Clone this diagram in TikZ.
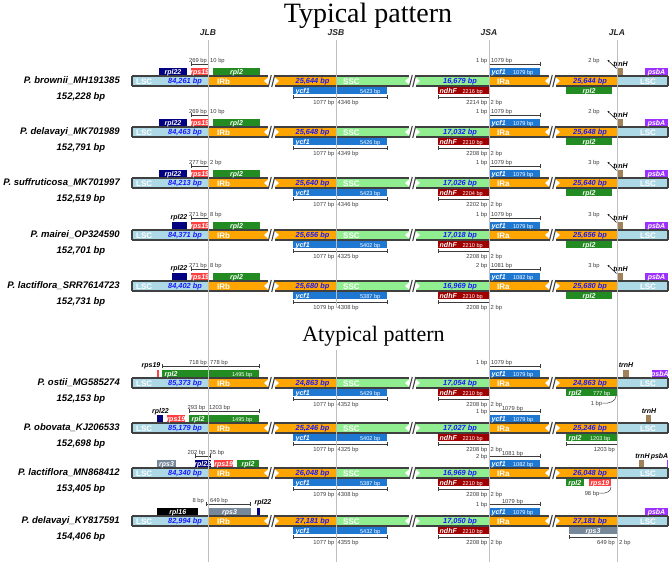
\documentclass[tikz,border=0pt]{standalone}
\usepackage{fontspec}
\setmainfont{Liberation Sans}
\newfontfamily\titlefont{Liberation Serif}
\usetikzlibrary{arrows.meta}
\definecolor{lscblue}{RGB}{173,216,230}
\definecolor{irorange}{RGB}{255,165,0}
\definecolor{sscgreen}{RGB}{144,238,144}
\definecolor{bpblue}{RGB}{25,25,255}
\definecolor{rplnavy}{RGB}{0,0,128}
\definecolor{rpsred}{RGB}{255,64,64}
\definecolor{rplgreen}{RGB}{34,139,34}
\definecolor{ycfblue}{RGB}{30,120,210}
\definecolor{ndhred}{RGB}{160,0,0}
\definecolor{trnbrown}{RGB}{160,130,90}
\definecolor{psbpurple}{RGB}{155,48,255}
\definecolor{rpsgray}{RGB}{119,136,153}
\definecolor{bardark}{RGB}{64,64,64}
\definecolor{juncgray}{RGB}{190,190,190}
\definecolor{dimgray}{RGB}{60,60,60}

\tikzset{
  titlelab/.style={font=\titlefont\fontsize{22}{22}\selectfont, inner sep=0pt},
  collab/.style={font=\bfseries\itshape\fontsize{8.5}{8.5}\selectfont, text=black!85, inner sep=0pt},
  splab/.style={font=\bfseries\itshape\fontsize{9.5}{9.5}\selectfont, inner sep=0pt, text height=0.72em, text depth=0.2em},
  seglab/.style={font=\bfseries\fontsize{8}{8}\selectfont, text=white, inner sep=0pt, text height=0.72em, text depth=0.1em},
  bplab/.style={font=\bfseries\itshape\fontsize{7.4}{7.4}\selectfont, text=bpblue, inner sep=0pt, text height=0.72em, text depth=0.2em},
  genelab/.style={font=\bfseries\itshape\fontsize{7}{7}\selectfont, text=white, inner sep=0pt, text height=0.72em, text depth=0.2em},
  lenlab/.style={font=\fontsize{5.6}{5.6}\selectfont, text=white, inner sep=0pt, text height=0.72em, text depth=0.2em},
  dimlab/.style={font=\fontsize{5.8}{5.8}\selectfont, text=dimgray, inner sep=0pt, text height=0.72em, text depth=0.2em},
  outlab/.style={font=\bfseries\itshape\fontsize{7}{7}\selectfont, text=black, inner sep=0pt, text height=0.72em, text depth=0.2em},
  barline/.style={draw=bardark, line width=1.1pt},
  dimc/.style={draw=dimgray, line width=0.5pt},
  dimtick/.style={draw=dimgray!80!black, line width=1pt},
  junc/.style={draw=juncgray, line width=0.9pt},
}

% break mark in a region: end of first part, start of second part, row y
\newcommand{\brk}[3]{%
  \fill[white] (#1,#3-3.5) -- (#1,#3+3.5) -- (#1-4,#3) -- cycle;
  \fill[white] (#2,#3-3.5) -- (#2,#3+3.5) -- (#2+4,#3) -- cycle;
  \draw[barline] (#1+0.3,#3+6) -- (#1+3.3,#3-6) (#2-3.3,#3+6) -- (#2-0.3,#3-6);}

% genome bar: name, y, LSC, IR, SSC
\newcommand{\chrbar}[5]{%
  \fill[lscblue] (132,#2-5) rectangle (208,#2+5);
  \fill[irorange] (208,#2-5) rectangle (268,#2+5);
  \fill[irorange] (275,#2-5) rectangle (336,#2+5);
  \fill[sscgreen] (336,#2-5) rectangle (409,#2+5);
  \fill[sscgreen] (416,#2-5) rectangle (489,#2+5);
  \fill[irorange] (489,#2-5) rectangle (549,#2+5);
  \fill[irorange] (556,#2-5) rectangle (617,#2+5);
  \fill[lscblue] (617,#2-5) rectangle (668,#2+5);
  \draw[barline] (132,#2-5) -- (268,#2-5) (275,#2-5) -- (409,#2-5)
    (416,#2-5) -- (549,#2-5) (556,#2-5) -- (668,#2-5);
  \draw[barline] (132,#2+5) -- (268,#2+5) (275,#2+5) -- (409,#2+5)
    (416,#2+5) -- (549,#2+5) (556,#2+5) -- (668,#2+5);
  \draw[barline] (132,#2-5) -- (132,#2+5) (668,#2-5) -- (668,#2+5);
  \brk{268}{275}{#2}
  \brk{409}{416}{#2}
  \brk{549}{556}{#2}
  \node[seglab, anchor=west] (#1lsc) at (136,#2) {LSC};
  \node[bplab] (#1lscbp) at (185,#2) {#3};
  \node[seglab, anchor=west] (#1irb) at (217,#2) {IRb};
  \node[bplab] (#1irbbp) at (312.5,#2) {#4};
  \node[seglab, anchor=west] (#1ssc) at (343,#2) {SSC};
  \node[bplab] (#1sscbp) at (460,#2) {#5};
  \node[seglab, anchor=west] (#1ira) at (497,#2) {IRa};
  \node[bplab] (#1irabp) at (590,#2) {#4};
  \node[seglab] (#1lscr) at (648,#2) {LSC};}

% species name and genome size
\newcommand{\species}[4]{%
  \node[splab, anchor=east] (#1name) at (120,#2) {#3};
  \node[splab] (#1size) at (81,#2+15.5) {#4};}

% dimension line: x1, x2, junction x, y
\newcommand{\dimline}[4]{%
  \draw[dimc] (#1,#4) -- (#2,#4);
  \draw[dimc] (#1,#4-2) -- (#1,#4+2) (#2,#4-2) -- (#2,#4+2);
  \draw[dimtick] (#3,#4-2) -- (#3,#4+2);}

% gene box with clipped centred label: name, x1, x2, top, colour, label
\newcommand{\gene}[6]{%
  \fill[#5] (#2,#4) rectangle (#3,#4+7);
  \begin{scope}
    \clip (#2,#4) rectangle (#3,#4+7);
    \node[genelab] (#1) at ({(#2+#3)/2},#4+3.5) {#6};
  \end{scope}}

% gene box with name and length: name, x1, x2, top, colour, label, length
\newcommand{\geneL}[7]{%
  \fill[#5] (#2,#4) rectangle (#3,#4+7);
  \node[genelab, anchor=west] (#1) at (#2+2.5,#4+3.5) {#6};
  \node[lenlab, anchor=east] (#1len) at (#3-6.5,#4+3.5) {#7};}

% ycf1 at JSB: name, y, length, left, right
\newcommand{\ycfb}[5]{%
  \geneL{#1ycfb}{293}{387}{#2+6}{ycfblue}{ycf1}{#3}
  \dimline{293}{387}{336}{#2+16}
  \node[dimlab, anchor=east] (#1jsbl) at (334.5,#2+21) {#4};
  \node[dimlab, anchor=west] (#1jsbr) at (337.5,#2+21) {#5};}

% ndhF at JSA: name, y, length, left, right
\newcommand{\ndhf}[5]{%
  \fill[ndhred] (438,#2+6) rectangle (489,#2+13);
  \node[genelab, anchor=west] (#1ndhf) at (439.5,#2+9.5) {ndhF};
  \node[lenlab, anchor=east] (#1ndhflen) at (483,#2+9.5) {#3};
  \dimline{438}{489}{489}{#2+16}
  \node[dimlab, anchor=east] (#1jsal) at (487.5,#2+21) {#4};
  \node[dimlab, anchor=west] (#1jsar) at (490.5,#2+21) {#5};}

% ycf1 at JSA, typical rows: name, y, length, left, right
\newcommand{\ycfa}[5]{%
  \geneL{#1ycfa}{489}{540}{#2-13}{ycfblue}{ycf1}{#3}
  \dimline{489}{540}{489}{#2-17}
  \node[dimlab, anchor=east] (#1jsul) at (487.5,#2-21) {#4};
  \node[dimlab, anchor=west] (#1jsur) at (491,#2-21) {#5};}

% ycf1 at JSA, atypical rows: name, y, length, left, right
\newcommand{\ycfaC}[5]{%
  \geneL{#1ycfa}{489}{540}{#2-13}{ycfblue}{ycf1}{#3}
  \dimline{489}{540}{489}{#2-17}
  \node[dimlab, anchor=east] (#1jsul) at (487.5,#2-17) {#4};
  \node[dimlab] (#1jsur) at (512.5,#2-20.5) {#5};}

% typical JLA region: name, y, trnH distance
\newcommand{\trnht}[3]{%
  \gene{#1rpl2b}{566}{612}{#2+6}{rplgreen}{rpl2}
  \fill[trnbrown] (617,#2-13) rectangle (623,#2-6);
  \node[outlab] (#1trnh) at (620.5,#2-17) {trnH};
  \draw[-{Stealth[length=2.2pt,width=2pt]}, line width=0.5pt] (616.5,#2-12.5) -- (607.5,#2-21);
  \node[dimlab] (#1trnhbp) at (594,#2-21) {#3};
  \gene{#1psba}{645}{668}{#2-13}{psbpurple}{psbA}}

\begin{document}
\begin{tikzpicture}[x=1pt,y=-1pt]
  \fill[white] (0,0) rectangle (669,562);
  \useasboundingbox (0,0) rectangle (669,562);

  % Titles and junctions
  \node[titlelab, anchor=base, font=\titlefont\fontsize{28}{28}\selectfont] (typtitle) at (368,22) {Typical pattern};
  \foreach \x/\j in {208/JLB,336/JSB,489/JSA,617/JLA}
    \node[collab] (col\j) at (\x,33) {\j};

  % P. brownii
  \species{r1}{81}{P. brownii\_MH191385}{152,228 bp}
  \chrbar{r1}{81}{84,261 bp}{25,644 bp}{16,679 bp}
  \gene{r1rpl22}{159}{187}{68}{rplnavy}{rpl22}
  \gene{r1rps19}{191}{208.5}{68}{rpsred}{rps19}
  \gene{r1rpl2}{213}{260}{68}{rplgreen}{rpl2}
  \dimline{191}{208}{208}{64}
  \node[dimlab, anchor=east] (r1jlbl) at (207,60) {269 bp};
  \node[dimlab, anchor=west] (r1jlbr) at (210,60) {10 bp};
  \ycfb{r1}{81}{5423 bp}{1077 bp}{4346 bp}
  \ndhf{r1}{81}{2216 bp}{2214 bp}{2 bp}
  \ycfa{r1}{81}{1079 bp}{1 bp}{1079 bp}
  \trnht{r1}{81}{2 bp}

  % P. delavayi MK701989
  \species{r2}{132}{P. delavayi\_MK701989}{152,791 bp}
  \chrbar{r2}{132}{84,463 bp}{25,648 bp}{17,032 bp}
  \gene{r2rpl22}{159}{187}{119}{rplnavy}{rpl22}
  \gene{r2rps19}{191}{208.5}{119}{rpsred}{rps19}
  \gene{r2rpl2}{213}{260}{119}{rplgreen}{rpl2}
  \dimline{191}{208}{208}{115}
  \node[dimlab, anchor=east] (r2jlbl) at (207,111) {269 bp};
  \node[dimlab, anchor=west] (r2jlbr) at (210,111) {10 bp};
  \ycfb{r2}{132}{5426 bp}{1077 bp}{4349 bp}
  \ndhf{r2}{132}{2210 bp}{2208 bp}{2 bp}
  \ycfa{r2}{132}{1079 bp}{1 bp}{1079 bp}
  \trnht{r2}{132}{2 bp}

  % P. suffruticosa
  \species{r3}{183}{P. suffruticosa\_MK701997}{152,519 bp}
  \chrbar{r3}{183}{84,213 bp}{25,640 bp}{17,026 bp}
  \gene{r3rpl22}{159}{187}{170}{rplnavy}{rpl22}
  \gene{r3rps19}{191}{208.5}{170}{rpsred}{rps19}
  \gene{r3rpl2}{213}{260}{170}{rplgreen}{rpl2}
  \dimline{191}{208}{208}{166}
  \node[dimlab, anchor=east] (r3jlbl) at (207,162) {277 bp};
  \node[dimlab, anchor=west] (r3jlbr) at (210,162) {2 bp};
  \ycfb{r3}{183}{5423 bp}{1077 bp}{4346 bp}
  \ndhf{r3}{183}{2204 bp}{2202 bp}{2 bp}
  \ycfa{r3}{183}{1079 bp}{1 bp}{1079 bp}
  \trnht{r3}{183}{3 bp}

  % P. mairei
  \species{r4}{235}{P. mairei\_OP324590}{152,701 bp}
  \chrbar{r4}{235}{84,371 bp}{25,656 bp}{17,018 bp}
  \fill[rplnavy] (171.7,222) rectangle (186.7,229);
  \node[outlab] (r4rpl22) at (179,217) {rpl22};
  \gene{r4rps19}{191}{208.5}{222}{rpsred}{rps19}
  \gene{r4rpl2}{213}{260}{222}{rplgreen}{rpl2}
  \dimline{191}{208}{208}{218}
  \node[dimlab, anchor=east] (r4jlbl) at (207,214) {271 bp};
  \node[dimlab, anchor=west] (r4jlbr) at (210,214) {8 bp};
  \ycfb{r4}{235}{5402 bp}{1077 bp}{4325 bp}
  \ndhf{r4}{235}{2210 bp}{2208 bp}{2 bp}
  \ycfa{r4}{235}{1079 bp}{1 bp}{1079 bp}
  \trnht{r4}{235}{3 bp}

  % P. lactiflora SRR7614723
  \species{r5}{286}{P. lactiflora\_SRR7614723}{152,731 bp}
  \chrbar{r5}{286}{84,402 bp}{25,680 bp}{16,969 bp}
  \fill[rplnavy] (171.7,273) rectangle (186.7,280);
  \node[outlab] (r5rpl22) at (179,268) {rpl22};
  \gene{r5rps19}{191}{208.5}{273}{rpsred}{rps19}
  \gene{r5rpl2}{213}{260}{273}{rplgreen}{rpl2}
  \dimline{191}{208}{208}{269}
  \node[dimlab, anchor=east] (r5jlbl) at (207,265) {271 bp};
  \node[dimlab, anchor=west] (r5jlbr) at (210,265) {8 bp};
  \ycfb{r5}{286}{5387 bp}{1079 bp}{4308 bp}
  \ndhf{r5}{286}{2210 bp}{2208 bp}{2 bp}
  \ycfa{r5}{286}{1082 bp}{2 bp}{1081 bp}
  \trnht{r5}{286}{3 bp}

  % P. ostii
  \species{r6}{383}{P. ostii\_MG585274}{152,153 bp}
  \chrbar{r6}{383}{85,373 bp}{24,863 bp}{17,054 bp}
  \fill[rpsred] (157.3,370) rectangle (158.8,377);
  \node[outlab] (r6rps19) at (151,365) {rps19};
  \geneL{r6rpl2}{162}{259}{370}{rplgreen}{rpl2}{1495 bp}
  \dimline{162}{259}{208}{366}
  \node[dimlab, anchor=east] (r6jlbl) at (207,362) {718 bp};
  \node[dimlab, anchor=west] (r6jlbr) at (210,362) {778 bp};
  \ycfb{r6}{383}{5429 bp}{1077 bp}{4352 bp}
  \ndhf{r6}{383}{2210 bp}{2208 bp}{2 bp}
  \ycfa{r6}{383}{1079 bp}{1 bp}{1079 bp}
  \geneL{r6rpl2b}{566}{617}{389}{rplgreen}{rpl2}{777 bp}
  \node[dimlab] (r6jlabp) at (596.5,403) {1 bp};
  \draw[dimc] (r6jlabp.east) .. controls (610,404) and (616,401) .. (616,396);
  \fill[trnbrown] (622.7,370) rectangle (628.7,377);
  \node[outlab] (r6trnh) at (626,365) {trnH};
  \gene{r6psba}{651.7}{668}{370}{psbpurple}{psbA}

  % P. obovata
  \species{r7}{428}{P. obovata\_KJ206533}{152,698 bp}
  \chrbar{r7}{428}{85,179 bp}{25,246 bp}{17,027 bp}
  \fill[rplnavy] (157.3,415) rectangle (163.3,422);
  \node[outlab] (r7rpl22) at (160.5,411) {rpl22};
  \gene{r7rps19}{166.7}{185}{415}{rpsred}{rps19}
  \geneL{r7rpl2}{189}{259}{415}{rplgreen}{rpl2}{1495 bp}
  \dimline{189}{259}{208}{411}
  \node[dimlab, anchor=east] (r7jlbl) at (205.5,407) {293 bp};
  \node[dimlab, anchor=west] (r7jlbr) at (209,407) {1203 bp};
  \ycfb{r7}{428}{5402 bp}{1077 bp}{4325 bp}
  \ndhf{r7}{428}{2210 bp}{2208 bp}{2 bp}
  \ycfaC{r7}{428}{1079 bp}{1 bp}{1079 bp}
  \geneL{r7rpl2b}{566}{617}{434}{rplgreen}{rpl2}{1203 bp}
  \dimline{566}{617}{617}{444}
  \node[dimlab, anchor=east] (r7jlal) at (615,449) {1203 bp};
  \fill[trnbrown] (645.7,415) rectangle (650.7,422);
  \node[outlab] (r7trnh) at (649,411) {trnH};

  % P. lactiflora MN868412
  \species{r8}{473}{P. lactiflora\_MN868412}{153,405 bp}
  \chrbar{r8}{473}{84,340 bp}{26,048 bp}{16,969 bp}
  \gene{r8rps3}{157.3}{175.7}{460}{rpsgray}{rps3}
  \gene{r8rpl22}{195}{210.7}{460}{rplnavy}{rpl22}
  \gene{r8rps19}{214}{233.3}{460}{rpsred}{rps19}
  \gene{r8rpl2}{236.7}{259.3}{460}{rplgreen}{rpl2}
  \dimline{195}{210.7}{208}{456}
  \node[dimlab, anchor=east] (r8jlbl) at (205.5,452) {202 bp};
  \node[dimlab, anchor=west] (r8jlbr) at (209.5,452) {35 bp};
  \ycfb{r8}{473}{5387 bp}{1079 bp}{4308 bp}
  \ndhf{r8}{473}{2210 bp}{2208 bp}{2 bp}
  \ycfaC{r8}{473}{1082 bp}{2 bp}{1081 bp}
  \gene{r8rpl2b}{565.7}{584}{479}{rplgreen}{rpl2}
  \gene{r8rps19b}{589}{610.7}{479}{rpsred}{rps19}
  \node[dimlab] (r8jlabp) at (592,493) {98 bp};
  \draw[dimc] (r8jlabp.east) .. controls (607,494) and (611,491) .. (611,487);
  \fill[trnbrown] (639,460) rectangle (644,467);
  \node[outlab] (r8trnh) at (642.5,456) {trnH};
  \node[outlab] (r8psba) at (659.5,456) {psbA};
  \fill[psbpurple] (666.7,460) rectangle (668,467);

  % P. delavayi KY817591
  \species{r9}{521}{P. delavayi\_KY817591}{154,406 bp}
  \chrbar{r9}{521}{82,994 bp}{27,181 bp}{17,050 bp}
  \gene{r9rpl16}{157.3}{198.3}{508}{black}{rpl16}
  \gene{r9rps3}{208.3}{250.7}{508}{rpsgray}{rps3}
  \dimline{206}{250.7}{208}{504}
  \node[dimlab, anchor=east] (r9jlbl) at (204,500) {8 bp};
  \node[dimlab, anchor=west] (r9jlbr) at (210,500) {649 bp};
  \fill[rplnavy] (257.3,508) rectangle (260,515);
  \node[outlab] (r9rpl22) at (263,502) {rpl22};
  \ycfb{r9}{521}{5432 bp}{1077 bp}{4355 bp}
  \ndhf{r9}{521}{2210 bp}{2208 bp}{2 bp}
  \ycfaC{r9}{521}{1079 bp}{1 bp}{1079 bp}
  \gene{r9rps3b}{569.3}{616.7}{527}{rpsgray}{rps3}
  \dimline{569.3}{617}{617}{537}
  \node[dimlab, anchor=east] (r9jlal) at (615,541.5) {649 bp};
  \node[dimlab, anchor=west] (r9jlar) at (619,541.5) {2 bp};
  \gene{r9psba}{645}{668}{508}{psbpurple}{psbA}

  % junction lines
  \foreach \x in {208,489,617}
    \draw[junc] (\x,40) -- (\x,562);
  \draw[junc] (336,40) -- (336,308) (336,350) -- (336,562);
  \node[titlelab, anchor=base] (atyptitle) at (373.5,341.5) {Atypical pattern};
\end{tikzpicture}
\end{document}
